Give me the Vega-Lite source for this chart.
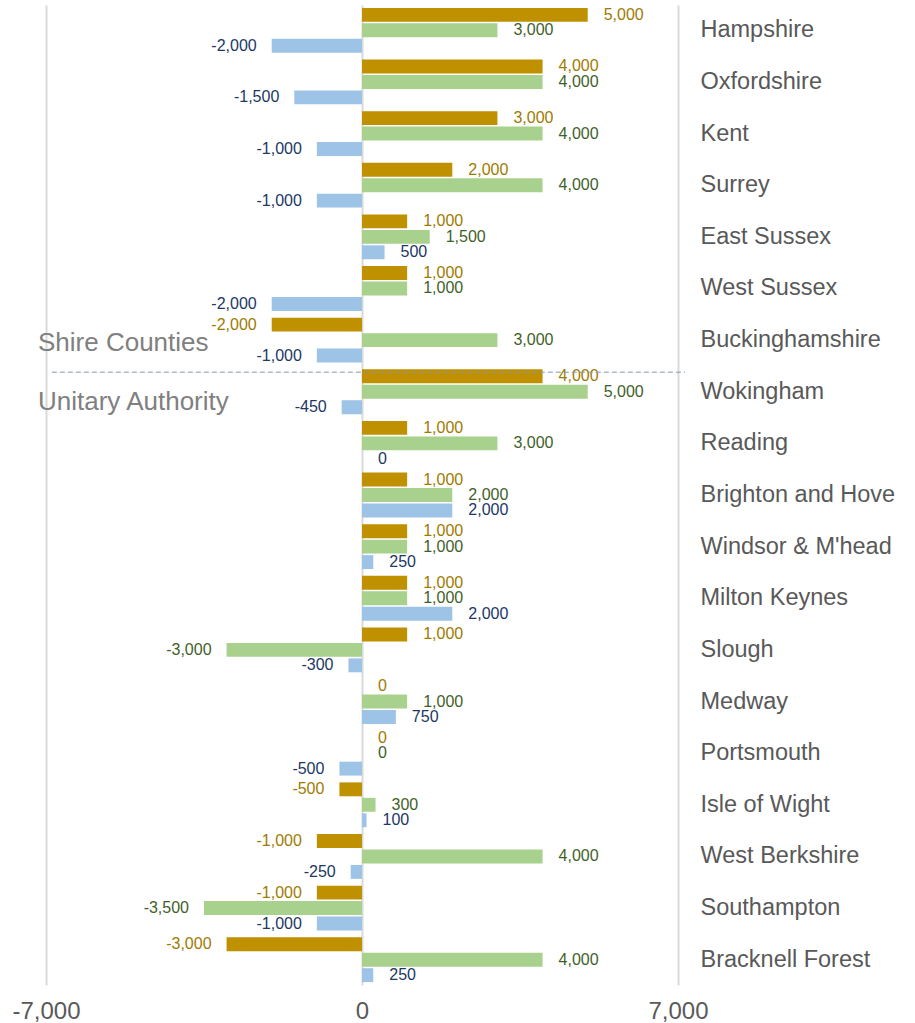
{
  "$schema": "https://vega.github.io/schema/vega-lite/v6.json",
  "width": 632,
  "height": 980,
  "autosize": "none",
  "padding": {"left": 46, "top": 5, "right": 237, "bottom": 38},
  "background": "white",
  "config": {
    "view": {"stroke": null},
    "font": "Liberation Sans",
    "locale": {"number": {"decimal": ".", "thousands": ",", "grouping": [3], "currency": ["$", ""], "minus": "-"}}
  },
  "data": {"values": [
    {"area": "Hampshire", "series": "Series 1", "value": 5000},
    {"area": "Hampshire", "series": "Series 2", "value": 3000},
    {"area": "Hampshire", "series": "Series 3", "value": -2000},
    {"area": "Oxfordshire", "series": "Series 1", "value": 4000},
    {"area": "Oxfordshire", "series": "Series 2", "value": 4000},
    {"area": "Oxfordshire", "series": "Series 3", "value": -1500},
    {"area": "Kent", "series": "Series 1", "value": 3000},
    {"area": "Kent", "series": "Series 2", "value": 4000},
    {"area": "Kent", "series": "Series 3", "value": -1000},
    {"area": "Surrey", "series": "Series 1", "value": 2000},
    {"area": "Surrey", "series": "Series 2", "value": 4000},
    {"area": "Surrey", "series": "Series 3", "value": -1000},
    {"area": "East Sussex", "series": "Series 1", "value": 1000},
    {"area": "East Sussex", "series": "Series 2", "value": 1500},
    {"area": "East Sussex", "series": "Series 3", "value": 500},
    {"area": "West Sussex", "series": "Series 1", "value": 1000},
    {"area": "West Sussex", "series": "Series 2", "value": 1000},
    {"area": "West Sussex", "series": "Series 3", "value": -2000},
    {"area": "Buckinghamshire", "series": "Series 1", "value": -2000},
    {"area": "Buckinghamshire", "series": "Series 2", "value": 3000},
    {"area": "Buckinghamshire", "series": "Series 3", "value": -1000},
    {"area": "Wokingham", "series": "Series 1", "value": 4000},
    {"area": "Wokingham", "series": "Series 2", "value": 5000},
    {"area": "Wokingham", "series": "Series 3", "value": -450},
    {"area": "Reading", "series": "Series 1", "value": 1000},
    {"area": "Reading", "series": "Series 2", "value": 3000},
    {"area": "Reading", "series": "Series 3", "value": 0},
    {"area": "Brighton and Hove", "series": "Series 1", "value": 1000},
    {"area": "Brighton and Hove", "series": "Series 2", "value": 2000},
    {"area": "Brighton and Hove", "series": "Series 3", "value": 2000},
    {"area": "Windsor & M'head", "series": "Series 1", "value": 1000},
    {"area": "Windsor & M'head", "series": "Series 2", "value": 1000},
    {"area": "Windsor & M'head", "series": "Series 3", "value": 250},
    {"area": "Milton Keynes", "series": "Series 1", "value": 1000},
    {"area": "Milton Keynes", "series": "Series 2", "value": 1000},
    {"area": "Milton Keynes", "series": "Series 3", "value": 2000},
    {"area": "Slough", "series": "Series 1", "value": 1000},
    {"area": "Slough", "series": "Series 2", "value": -3000},
    {"area": "Slough", "series": "Series 3", "value": -300},
    {"area": "Medway", "series": "Series 1", "value": 0},
    {"area": "Medway", "series": "Series 2", "value": 1000},
    {"area": "Medway", "series": "Series 3", "value": 750},
    {"area": "Portsmouth", "series": "Series 1", "value": 0},
    {"area": "Portsmouth", "series": "Series 2", "value": 0},
    {"area": "Portsmouth", "series": "Series 3", "value": -500},
    {"area": "Isle of Wight", "series": "Series 1", "value": -500},
    {"area": "Isle of Wight", "series": "Series 2", "value": 300},
    {"area": "Isle of Wight", "series": "Series 3", "value": 100},
    {"area": "West Berkshire", "series": "Series 1", "value": -1000},
    {"area": "West Berkshire", "series": "Series 2", "value": 4000},
    {"area": "West Berkshire", "series": "Series 3", "value": -250},
    {"area": "Southampton", "series": "Series 1", "value": -1000},
    {"area": "Southampton", "series": "Series 2", "value": -3500},
    {"area": "Southampton", "series": "Series 3", "value": -1000},
    {"area": "Bracknell Forest", "series": "Series 1", "value": -3000},
    {"area": "Bracknell Forest", "series": "Series 2", "value": 4000},
    {"area": "Bracknell Forest", "series": "Series 3", "value": 250}
  ]},
  "encoding": {
    "y": {
      "field": "area", "type": "nominal",
      "scale": {"domain": ["Hampshire", "Oxfordshire", "Kent", "Surrey", "East Sussex", "West Sussex", "Buckinghamshire", "Wokingham", "Reading", "Brighton and Hove", "Windsor & M'head", "Milton Keynes", "Slough", "Medway", "Portsmouth", "Isle of Wight", "West Berkshire", "Southampton", "Bracknell Forest"], "paddingInner": 0.12, "paddingOuter": 0.05},
      "axis": {"orient": "right", "title": null, "domain": false, "ticks": false, "labelPadding": 22, "labelFontSize": 23.5, "labelColor": "#595959", "labelAlign": "left", "labelBaseline": "middle", "labelLimit": 300}
    },
    "x": {
      "field": "value", "type": "quantitative",
      "scale": {"domain": [-7000, 7000], "nice": false, "zero": false},
      "axis": {"values": [-7000, 0, 7000], "format": ",.0f", "title": null, "domain": false, "ticks": false, "grid": true, "gridColor": "#D9D9D9", "gridWidth": 2, "labelFontSize": 24, "labelColor": "#595959", "labelPadding": 14, "labelFlush": false, "labelOverlap": false}
    }
  },
  "layer": [
    {
      "mark": {"type": "bar"},
      "encoding": {
        "yOffset": {"field": "series", "type": "nominal", "sort": ["Series 1", "Series 2", "Series 3"], "scale": {"paddingInner": 0.1, "paddingOuter": 0.02}},
        "color": {"field": "series", "type": "nominal", "scale": {"domain": ["Series 1", "Series 2", "Series 3"], "range": ["#BF9000", "#A9D18E", "#9DC3E6"]}, "legend": null}
      }
    },
    {
      "transform": [{"filter": "datum.value >= 0"}],
      "mark": {"type": "text", "align": "left", "baseline": "middle", "dx": 16, "fontSize": 16},
      "encoding": {
        "yOffset": {"field": "series", "type": "nominal", "sort": ["Series 1", "Series 2", "Series 3"]},
        "text": {"field": "value", "type": "quantitative", "format": ",.0f"},
        "color": {"condition": [{"test": "datum.series === 'Series 1'", "value": "#9E7B00"}, {"test": "datum.series === 'Series 2'", "value": "#3F6129"}], "value": "#203864"}
      }
    },
    {
      "transform": [{"filter": "datum.value < 0"}],
      "mark": {"type": "text", "align": "right", "baseline": "middle", "dx": -15, "fontSize": 16},
      "encoding": {
        "yOffset": {"field": "series", "type": "nominal", "sort": ["Series 1", "Series 2", "Series 3"]},
        "text": {"field": "value", "type": "quantitative", "format": ",.0f"},
        "color": {"condition": [{"test": "datum.series === 'Series 1'", "value": "#9E7B00"}, {"test": "datum.series === 'Series 2'", "value": "#3F6129"}], "value": "#203864"}
      }
    },
    {
      "data": {"values": [{"area": "Wokingham", "value": -6870, "value2": 7155}]},
      "mark": {"type": "rule", "strokeDash": [5, 3], "color": "#8497B0", "strokeWidth": 1},
      "encoding": {
        "y": {"field": "area", "type": "nominal", "bandPosition": 0.07},
        "x2": {"field": "value2"}
      }
    },
    {
      "data": {"values": [{"area": "Buckinghamshire", "value": -7000, "label": "Shire Counties"}]},
      "mark": {"type": "text", "align": "left", "baseline": "middle", "fontSize": 26, "color": "#808080", "dx": -8, "dy": 3},
      "encoding": {"text": {"field": "label"}}
    },
    {
      "data": {"values": [{"area": "Wokingham", "value": -7000, "label": "Unitary Authority"}]},
      "mark": {"type": "text", "align": "left", "baseline": "middle", "fontSize": 26, "color": "#808080", "dx": -8, "dy": 10},
      "encoding": {"text": {"field": "label"}}
    }
  ]
}
